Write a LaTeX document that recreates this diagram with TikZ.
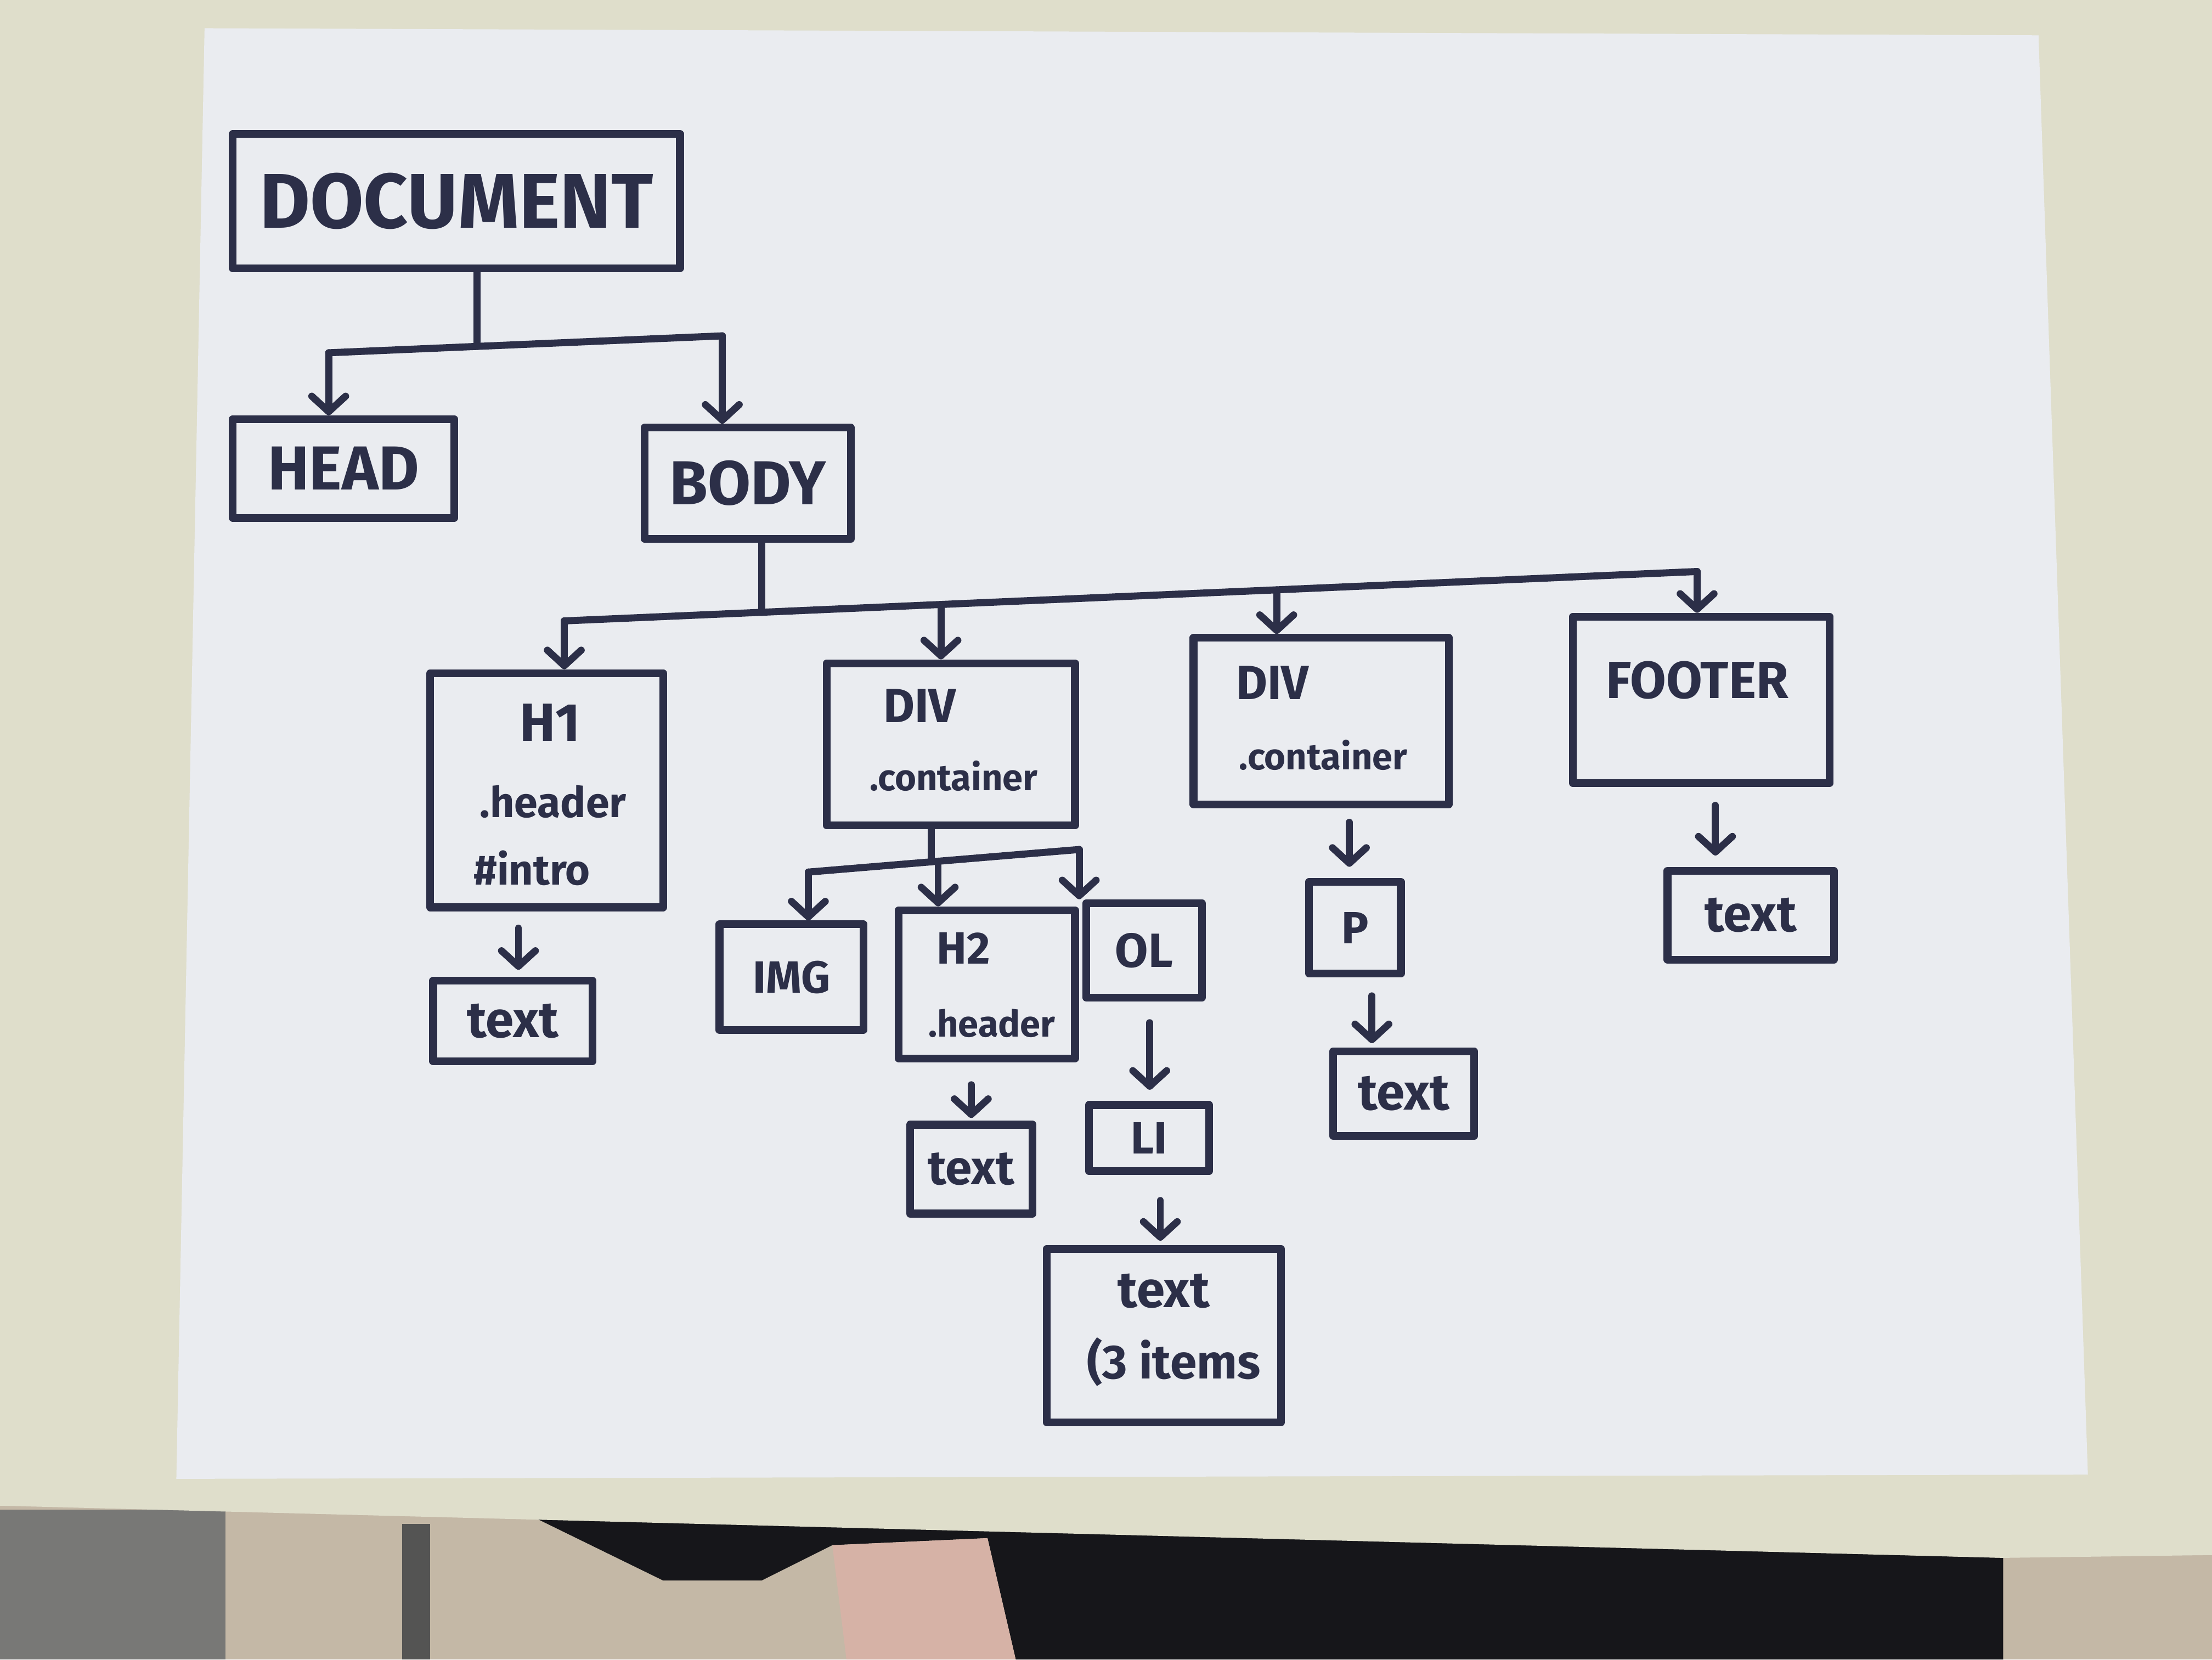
\documentclass[tikz,border=0pt]{standalone}
\usepackage{fontspec}
\setmainfont{Fira Sans}
\usetikzlibrary{arrows.meta,calc}
\definecolor{ink}{RGB}{44,47,72}
\definecolor{paper}{RGB}{234,236,240}
\definecolor{desk}{RGB}{223,222,203}
\definecolor{floorc}{RGB}{196,184,166}
\definecolor{greyobj}{RGB}{120,120,118}
\definecolor{dark}{RGB}{22,22,26}
\definecolor{skin}{RGB}{214,178,166}
\begin{document}
\begin{tikzpicture}[x=1pt,y=-1pt,
  box/.style={draw=ink, line width=5.5pt, line join=round, rectangle, inner sep=0pt},
  lbl/.style={text=ink, font=\bfseries\fontsize{#1}{#1}\selectfont, inner sep=0pt},
  wire/.style={draw=ink, line width=5pt, line cap=round, line join=round},
  arr/.style={wire, -{Straight Barb[length=11pt,width=24pt,round]}}]
\useasboundingbox (0,0) rectangle (1568,1176);
% background: floor, desk, paper
\fill[floorc] (0,0) rectangle (1568,1176);
\fill[greyobj] (0,1070) rectangle (160,1176);
\fill[greyobj!70!black] (285,1080) rectangle (305,1176);
\fill[dark] (380,1076) -- (1420,1104) -- (1420,1176) -- (900,1176) -- (820,1176)
   -- (720,1176) -- (700,1090) -- (590,1095) -- (540,1120) -- (470,1120) -- cycle;
\fill[skin] (590,1095) -- (700,1090) -- (720,1176) -- (600,1176) -- cycle;
\fill[desk] (0,0) -- (1568,0) -- (1568,1102) -- (1420,1104) -- (0,1067) -- cycle;
\fill[paper] (145,20) -- (1445,25) -- (1480,1045) -- (125,1048) -- cycle;

% nodes
\node[box, lbl=55, minimum width=317pt, minimum height=95pt] (doc) at (323.5,142.5) {DOCUMENT};
\node[box, lbl=44, minimum width=157pt, minimum height=70pt] (head) at (243.5,332) {HEAD};
\node[box, lbl=44, minimum width=146pt, minimum height=79pt] (body) at (530,342.5) {BODY};

\node[box, minimum width=165pt, minimum height=166pt] (h1) at (387.5,560) {};
\node[lbl=38] (h1a) at (390,512) {H1};
\node[lbl=30] (h1b) at (392,568) {.header};
\node[lbl=30] (h1c) at (377,615) {\#intro};

\node[box, minimum width=176pt, minimum height=115pt] (div1) at (674,527.5) {};
\node[lbl=34] (div1a) at (652,500) {DIV};
\node[lbl=26] (div1b) at (676,550) {.container};

\node[box, minimum width=181pt, minimum height=118pt] (div2) at (936.5,511) {};
\node[lbl=34] (div2a) at (902,484) {DIV};
\node[lbl=26] (div2b) at (938,535) {.container};

\node[box, minimum width=182pt, minimum height=118pt] (foot) at (1206,496) {};
\node[lbl=37] (foota) at (1203,482) {FOOTER};

\node[box, lbl=36, minimum width=113pt, minimum height=57pt] (h1t) at (363.5,723.5) {text};
\node[box, lbl=32, minimum width=102pt, minimum height=75pt] (img) at (561,692.5) {IMG};

\node[box, minimum width=125pt, minimum height=105pt] (h2) at (699.5,697.5) {};
\node[lbl=32] (h2a) at (683,672) {H2};
\node[lbl=26] (h2b) at (703,725) {.header};

\node[box, lbl=34, minimum width=82pt, minimum height=67pt] (ol) at (811,673.5) {OL};
\node[box, lbl=34, minimum width=87pt, minimum height=63pt] (h2t) at (688.5,828.5) {text};
\node[box, lbl=32, minimum width=85pt, minimum height=47pt] (li) at (814.5,806.5) {LI};

\node[box, minimum width=166pt, minimum height=123pt] (lit) at (825,946.5) {};
\node[lbl=36] (lita) at (825,915) {text};
\node[lbl=34] (litb) at (832,965) {(3 items};

\node[box, lbl=32, minimum width=65pt, minimum height=65pt] (p) at (960.5,657.5) {P};
\node[box, lbl=36, minimum width=100pt, minimum height=60pt] (pt) at (995,775) {text};
\node[box, lbl=36, minimum width=118pt, minimum height=63pt] (ft) at (1241,648.5) {text};

% DOCUMENT tree
\coordinate (d0) at (338,245.5);
\coordinate (dL) at (233,250);
\coordinate (dR) at (512,238);
\draw[wire] (doc.south -| d0) -- (d0);
\draw[wire] (dL) -- (dR);
\draw[arr] (dL) -- (dL |- head.north);
\draw[arr] (dR) -- (dR |- body.north);

% BODY tree
\coordinate (b0) at (540,434);
\coordinate (bL) at (400,440);
\coordinate (b2) at (667,428.4);
\coordinate (b3) at (905,418);
\coordinate (bR) at (1203,405);
\draw[wire] (body.south -| b0) -- (b0);
\draw[wire] (bL) -- (bR);
\draw[arr] (bL) -- (bL |- h1.north);
\draw[arr] (b2) -- (b2 |- div1.north);
\draw[arr] (b3) -- (b3 |- div2.north);
\draw[arr] (bR) -- (bR |- foot.north);

% DIV tree
\coordinate (c0) at (660,610.8);
\coordinate (cL) at (573,618);
\coordinate (c2) at (665,610.3);
\coordinate (cR) at (765,602);
\draw[wire] (div1.south -| c0) -- (c0);
\draw[wire] (cL) -- (cR);
\draw[arr] (cL) -- (cL |- img.north);
\draw[arr] (c2) -- (c2 |- h2.north);
\draw[arr] (cR) -- (cR |- ol.north);

% single arrows
\coordinate (a1) at ($(h1.south)+(-20,0)$);
\draw[arr, shorten <=12pt, shorten >=5pt] (a1) -- (a1 |- h1t.north);
\coordinate (a2) at ($(h2.south)+(-11,0)$);
\draw[arr, shorten <=16pt, shorten >=2pt] (a2) -- (a2 |- h2t.north);
\coordinate (a3) at ($(ol.south)+(4,0)$);
\draw[arr, shorten <=15pt, shorten >=8pt] (a3) -- (a3 |- li.north);
\coordinate (a4) at ($(li.south)+(8,0)$);
\draw[arr, shorten <=18pt, shorten >=3pt] (a4) -- (a4 |- lit.north);
\coordinate (a5) at ($(div2.south)+(20,0)$);
\draw[arr, shorten <=10pt, shorten >=8pt] (a5) -- (a5 |- p.north);
\coordinate (a6) at ($(p.south)+(12,0)$);
\draw[arr, shorten <=13pt, shorten >=3pt] (a6) -- (a6 |- pt.north);
\coordinate (a7) at ($(foot.south)+(10,0)$);
\draw[arr, shorten <=13pt, shorten >=8pt] (a7) -- (a7 |- ft.north);
\end{tikzpicture}
\end{document}
